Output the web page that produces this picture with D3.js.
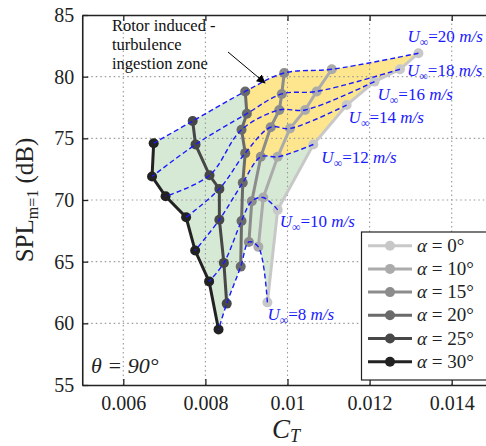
<!DOCTYPE html>
<html>
<head>
<meta charset="utf-8">
<script src="https://cdn.jsdelivr.net/npm/d3@7"></script>
<style>
body { margin: 0; background: #fff; }
text { font-family: "Liberation Serif", "Times New Roman", serif; }
</style>
</head>
<body>
<script>
// angle of attack series and free stream speeds
var alphas = [0, 10, 15, 20, 25, 30];
var speeds = [8, 10, 12, 14, 16, 18, 20];

// thrust coefficient / SPL per alpha, ordered U = 8 ... 20 m/s
var ct0   = [0.00951, 0.00976, 0.01063, 0.01144, 0.01212, 0.01274, 0.01319];
var spl0  = [61.7, 69.2, 74.5, 77.7, 79.6, 80.6, 81.9];
var ct10  = [0.00929, 0.00941, 0.00976, 0.01006, 0.01043, 0.01071, 0.01108];
var spl10 = [66.2, 70.2, 73.5, 75.8, 77.3, 78.8, 80.6];
var ct15  = [0.00906, 0.00913, 0.00935, 0.00959, 0.00980, 0.00986, 0.00992];
var spl15 = [66.6, 69.9, 73.5, 75.9, 77.3, 78.6, 80.3];
var ct20  = [0.00886, 0.00888, 0.00891, 0.00897, 0.00888, 0.00901, 0.00897];
var spl20 = [64.6, 68.3, 71.4, 73.8, 75.7, 77.0, 78.8];
var ct25  = [0.00852, 0.00845, 0.00834, 0.00834, 0.00810, 0.00776, 0.00769];
var spl25 = [61.6, 64.9, 68.4, 70.9, 72.0, 74.5, 76.4];
var ct30  = [0.00832, 0.00809, 0.00775, 0.00753, 0.00703, 0.00670, 0.00674];
var spl30 = [59.5, 63.4, 65.9, 68.6, 70.3, 71.9, 74.6];

var xTicks = [0.006, 0.008, 0.01, 0.012, 0.014];
var yTicks = [55, 60, 65, 70, 75, 80, 85];

var ctSeries = [ct0, ct10, ct15, ct20, ct25, ct30];
var splSeries = [spl0, spl10, spl15, spl20, spl25, spl30];
var alphaColors = ["#c8c8c8", "#ababab", "#8c8c8c", "#6a6a6a", "#474747", "#222222"];

var width = 486, height = 446;

var svg = d3.select("body").append("svg")
    .attr("width", width)
    .attr("height", height);

var x = d3.scaleLinear().domain([0.005, 0.015]).range([82.25, 492.75]);
var y = d3.scaleLinear().domain([55, 85]).range([385, 15]);

function alphaPts(i) {
    return speeds.map(function(u, j){ return [x(ctSeries[i][j]), y(splSeries[i][j])]; });
}
function speedPts(j) {
    return alphas.map(function(a, i){ return [x(ctSeries[i][j]), y(splSeries[i][j])]; });
}

var lin = d3.line();
var cur = d3.line().curve(d3.curveCatmullRom.alpha(0.5));

function joinPaths(parts) {
    return parts.map(function(p, k){ return k ? p.replace(/^M/, "L") : p; }).join("") + "Z";
}

//shaded zones
var last = speeds.length - 1;
var green = joinPaths([
    lin(alphaPts(5)),
    cur(speedPts(last).reverse()),
    lin(alphaPts(0).reverse()),
    cur(speedPts(0))
]);
svg.append("path").attr("d", green).attr("fill", "#d5e9d4");

var yellow = joinPaths([
    lin(alphaPts(3).slice(2)),
    cur(speedPts(last).slice(0, 4).reverse()),
    lin(alphaPts(0).slice(2).reverse()),
    cur(speedPts(2).slice(0, 4))
]);
svg.append("path").attr("d", yellow).attr("fill", "#fde68e");

//grid
var grid = svg.append("g")
    .attr("stroke", "#9a9a9a")
    .attr("stroke-width", 1.1)
    .attr("stroke-dasharray", "1.5,3");
grid.selectAll(".gx").data(xTicks).enter().append("line")
    .attr("x1", function(d){ return x(d); }).attr("x2", function(d){ return x(d); })
    .attr("y1", y(55)).attr("y2", y(85));
grid.selectAll(".gy").data(yTicks.slice(1, -1)).enter().append("line")
    .attr("y1", function(d){ return y(d); }).attr("y2", function(d){ return y(d); })
    .attr("x1", x(0.005)).attr("x2", x(0.015));

//alpha curves with markers
alphas.forEach(function(a, i){
    var pts = alphaPts(i);
    svg.append("path").attr("d", lin(pts))
        .attr("fill", "none")
        .attr("stroke", alphaColors[i])
        .attr("stroke-width", 3);
    svg.selectAll(".m" + a).data(pts).enter().append("circle")
        .attr("cx", function(d){ return d[0]; })
        .attr("cy", function(d){ return d[1]; })
        .attr("r", 5)
        .attr("fill", alphaColors[i]);
});

//constant speed lines
speeds.forEach(function(u, j){
    svg.append("path").attr("d", cur(speedPts(j)))
        .attr("fill", "none")
        .attr("stroke", "#1a1aff")
        .attr("stroke-width", 1.4)
        .attr("stroke-dasharray", "5,3");
});

//speed labels, placed relative to the alpha = 0 point
var labelOffset = {8: [0, 18], 10: [2, 17], 12: [8, 18], 14: [2, 18], 16: [3, 18], 18: [7, 7], 20: [-11, -11]};
speeds.forEach(function(u, j){
    var p = speedPts(j)[0];
    var t = svg.append("text")
        .attr("x", p[0] + labelOffset[u][0])
        .attr("y", p[1] + labelOffset[u][1])
        .attr("fill", "#1a1aff")
        .attr("font-size", 17);
    t.append("tspan").attr("font-style", "italic").text("U");
    t.append("tspan").attr("dy", 4).attr("font-size", 12).text("\u221e");
    t.append("tspan").attr("dy", -4).text("=" + u + " ");
    t.append("tspan").attr("font-style", "italic").text("m/s");
});

//axes
var fmt = function(d){ return String(+d.toFixed(3)); };
var xAxis = svg.append("g").attr("transform", "translate(0," + y(55) + ")")
    .call(d3.axisBottom(x).tickValues(xTicks).tickFormat(fmt).tickSizeInner(-6).tickSizeOuter(0).tickPadding(11));
var yAxis = svg.append("g").attr("transform", "translate(" + x(0.005) + ",0)")
    .call(d3.axisLeft(y).tickValues(yTicks).tickSizeInner(-6).tickSizeOuter(0).tickPadding(8));
var topAxis = svg.append("g").attr("transform", "translate(0," + y(85) + ")")
    .call(d3.axisTop(x).tickValues(xTicks).tickFormat("").tickSizeInner(-6).tickSizeOuter(0));

[xAxis, yAxis, topAxis].forEach(function(g){
    g.select(".domain").attr("stroke", "#222").attr("stroke-width", 1.6);
    g.selectAll(".tick line").attr("stroke", "#222").attr("stroke-width", 1.3);
    g.selectAll("text").attr("font-family", "Liberation Serif, serif")
        .attr("font-size", 20).attr("fill", "#222");
});

//axis titles
var xt = svg.append("text").attr("x", 272).attr("y", 438).attr("font-size", 27).attr("fill", "#222");
xt.append("tspan").attr("font-style", "italic").text("C");
xt.append("tspan").attr("dy", 4).attr("font-size", 18).attr("font-style", "italic").text("T");

var yt = svg.append("text")
    .attr("transform", "translate(33,200) rotate(-90)")
    .attr("text-anchor", "middle")
    .attr("font-size", 25)
    .attr("fill", "#222");
yt.append("tspan").text("SPL");
yt.append("tspan").attr("dy", 5).attr("font-size", 16).text("m=1");
yt.append("tspan").attr("dy", -5).text(" (dB)");

//theta label
svg.append("text").attr("x", 91).attr("y", 373)
    .attr("font-size", 22).attr("font-style", "italic").attr("fill", "#222")
    .text("\u03b8 = 90\u00b0");

//annotation
var ann = svg.append("text").attr("x", 112).attr("font-size", 16.5).attr("fill", "#111");
["Rotor induced -", "turbulence", "ingestion zone"].forEach(function(s, k){
    ann.append("tspan").attr("x", 112).attr("y", 31 + k * 19).text(s);
});
svg.append("defs").append("marker")
    .attr("id", "arr").attr("viewBox", "0 0 10 10")
    .attr("refX", 9).attr("refY", 5)
    .attr("markerWidth", 9).attr("markerHeight", 9)
    .attr("markerUnits", "userSpaceOnUse")
    .attr("orient", "auto")
    .append("path").attr("d", "M0,0L10,5L0,10Z").attr("fill", "#000");
svg.append("line")
    .attr("x1", 228).attr("y1", 52).attr("x2", 265).attr("y2", 83)
    .attr("stroke", "#000").attr("stroke-width", 1)
    .attr("marker-end", "url(#arr)");

//legend
var lg = svg.append("g");
lg.append("rect").attr("x", 361.5).attr("y", 232).attr("width", 140).attr("height", 148)
    .attr("fill", "#fff").attr("stroke", "#222").attr("stroke-width", 1.2);
alphas.forEach(function(a, i){
    var ly = 245.7 + i * 23.2;
    lg.append("line").attr("x1", 368).attr("x2", 412).attr("y1", ly).attr("y2", ly)
        .attr("stroke", alphaColors[i]).attr("stroke-width", 3);
    lg.append("circle").attr("cx", 390).attr("cy", ly).attr("r", 5).attr("fill", alphaColors[i]);
    var t = lg.append("text").attr("x", 417).attr("y", ly + 6).attr("font-size", 19).attr("fill", "#222");
    t.append("tspan").attr("font-style", "italic").text("\u03b1");
    t.append("tspan").text(" = " + a + "\u00b0");
});
</script>
</body>
</html>
